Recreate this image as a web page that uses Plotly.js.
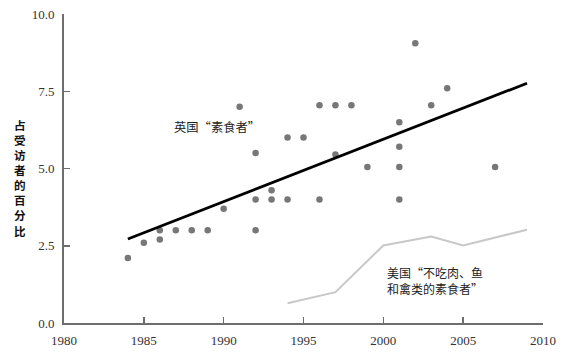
<!DOCTYPE html>
<html>
<head>
<meta charset="utf-8">
<script src="https://cdn.plot.ly/plotly-3.0.1.min.js"></script>
<style>html,body{margin:0;padding:0;background:#fff;}#chart{width:566px;height:356px;}</style>
</head>
<body>
<div id="chart"></div>
<script>
// UK survey points (year, percent)
const ukYears = [1984, 1985, 1986, 1986, 1987, 1988, 1989, 1990, 1991, 1992, 1992, 1992, 1993, 1993, 1994, 1994, 1995, 1996, 1996, 1997, 1997, 1998, 1999, 2001, 2001, 2001, 2001, 2002, 2003, 2004, 2007];
const ukValues = [2.1, 2.6, 3.0, 2.7, 3.0, 3.0, 3.0, 3.7, 7.0, 5.5, 4.0, 3.0, 4.3, 4.0, 6.0, 4.0, 6.0, 7.05, 4.0, 7.05, 5.45, 7.05, 5.05, 6.5, 5.7, 5.05, 4.0, 9.05, 7.05, 7.6, 5.05];
// UK trend line
const trendYears = [1984, 2009];
const trendValues = [2.72, 7.76];
// US series
const usYears = [1994, 1997, 2000, 2003, 2005, 2009];
const usValues = [0.64, 1.0, 2.51, 2.8, 2.51, 3.02];
// Labels
const yTitle = "占受访者的百分比";
const ukLabel = "英国“素食者”";
const usLabel = "美国“不吃肉、鱼<br>和禽类的素食者”";
const xTicks = [1980, 1985, 1990, 1995, 2000, 2005, 2010];
const yTicks = [0, 2.5, 5, 7.5, 10];
const yTickText = ["0.0", "2.5", "5.0", "7.5", "10.0"];

const cjk = 'Noto Sans CJK SC, Noto Sans, sans-serif';
const serif = 'Liberation Serif, DejaVu Serif, serif';

const traces = [
  {x: usYears, y: usValues, type: 'scatter', mode: 'lines',
   line: {color: '#c8c8c8', width: 2}, hoverinfo: 'skip'},
  {x: ukYears, y: ukValues, type: 'scatter', mode: 'markers',
   marker: {color: '#777777', size: 6.5}, hoverinfo: 'skip'},
  {x: trendYears, y: trendValues, type: 'scatter', mode: 'lines',
   line: {color: '#000000', width: 2.8}, hoverinfo: 'skip'}
];

const layout = {
  width: 566, height: 356,
  margin: {l: 64, r: 23, t: 14, b: 33, pad: 0},
  paper_bgcolor: '#ffffff', plot_bgcolor: '#ffffff',
  showlegend: false,
  xaxis: {
    range: [1980, 2010], tickvals: xTicks, ticktext: xTicks.map(String),
    showgrid: false, zeroline: false, showline: true, linecolor: '#6e6e6e', linewidth: 2,
    ticks: 'inside', ticklen: 6, tickwidth: 1.5, tickcolor: '#6e6e6e',
    tickfont: {family: serif, size: 13, color: '#333333'}, ticklabelstandoff: 4
  },
  yaxis: {
    range: [0, 10], tickvals: yTicks, ticktext: yTickText,
    showgrid: false, zeroline: false, showline: true, linecolor: '#6e6e6e', linewidth: 2,
    ticks: 'inside', ticklen: 6, tickwidth: 1.5, tickcolor: '#6e6e6e',
    tickfont: {family: serif, size: 13, color: '#333333'}, ticklabelstandoff: 5
  },
  annotations: [
    {xref: 'paper', yref: 'paper', x: -0.092, y: 0.47, xanchor: 'center', yanchor: 'middle',
     text: '<b>' + yTitle.split('').join('<br>') + '</b>', showarrow: false,
     font: {family: cjk, size: 11.6, color: '#111111'}},
    {xref: 'x', yref: 'y', x: 1986.75, y: 6.34, xanchor: 'left', yanchor: 'middle',
     text: ukLabel, showarrow: false, font: {family: cjk, size: 12.3, color: '#222222'}},
    {xref: 'x', yref: 'y', x: 2000.1, y: 1.38, xanchor: 'left', yanchor: 'middle', align: 'left',
     text: usLabel, showarrow: false, font: {family: cjk, size: 12, color: '#222222'}}
  ]
};

Plotly.newPlot('chart', traces, layout, {displayModeBar: false, staticPlot: true});
</script>
</body>
</html>
